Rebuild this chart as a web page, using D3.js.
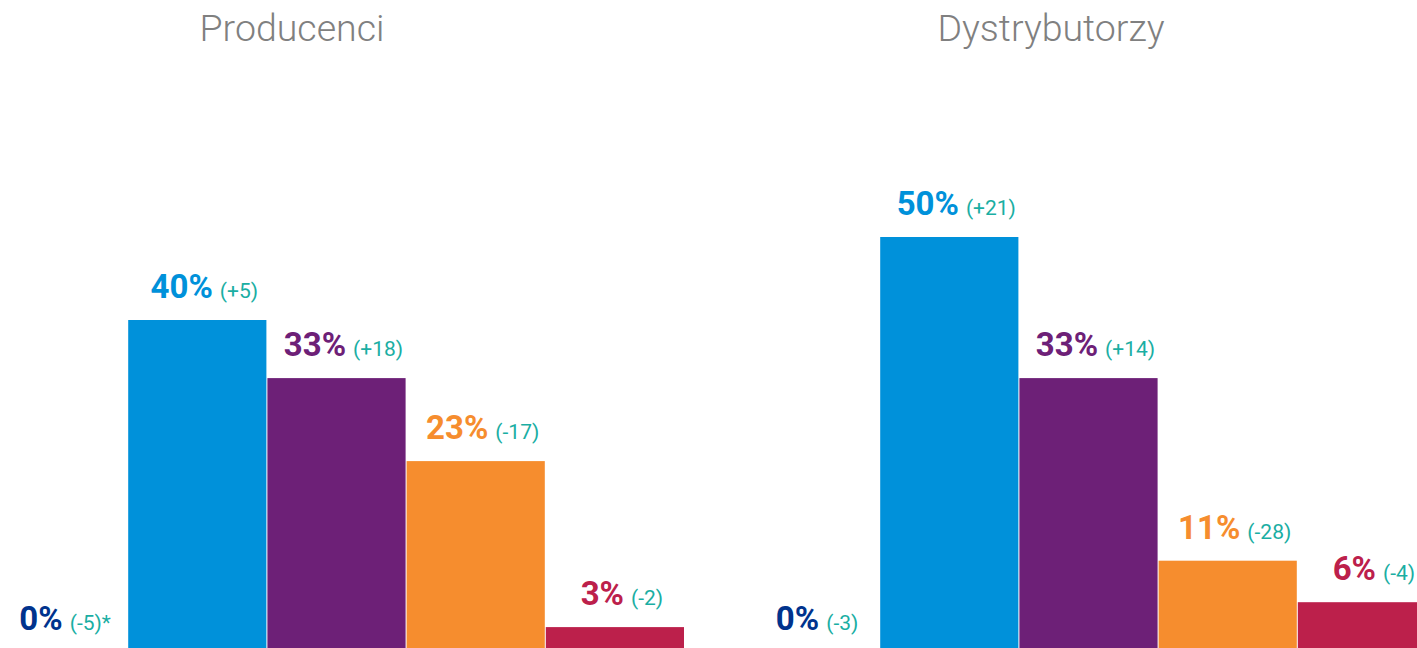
<!DOCTYPE html>
<html>
<head>
<meta charset="utf-8">
<script src="https://cdn.jsdelivr.net/npm/d3@7"></script>
<style>
  body { margin: 0; background: #fff; }
  svg { display: block; font-family: Roboto, "Liberation Sans", sans-serif; }
</style>
</head>
<body>
<div class="graph"></div>
<script>
// data
var panels = ["Producenci", "Dystrybutorzy"];
var categories = ["a", "b", "c", "d", "e"];
var producenciValues = [0, 40, 33, 23, 3];
var producenciDeltas = ["(-5)*", "(+5)", "(+18)", "(-17)", "(-2)"];
var dystrybutorzyValues = [0, 50, 33, 11, 6];
var dystrybutorzyDeltas = ["(-3)", "(+21)", "(+14)", "(-28)", "(-4)"];
var colors = ["#00338D", "#0091DA", "#6D2077", "#F68D2E", "#BC204B"];

var width = 1417, height = 648;

var svg = d3.select(".graph")
  .append("svg")
  .attr("width", width)
  .attr("height", height);

// shared y scale, baseline sits a little below the picture
var yScale = d3.scaleLinear()
  .domain([0, 50])
  .range([652, 237]);

function drawPanel(title, values, deltas, x0, titleX) {
  var xScale = d3.scaleBand()
    .domain(categories)
    .range([x0, x0 + 695])
    .paddingInner(1 / 139)
    .paddingOuter(0);

  var g = svg.append("g");

  g.append("text")
    .attr("x", titleX)
    .attr("y", 41)
    .attr("text-anchor", "middle")
    .attr("font-size", 37.5)
    .attr("font-weight", 300)
    .attr("fill", "#808080")
    .text(title);

  var data = categories.map(function(c, i) {
    return {cat: c, value: values[i], delta: deltas[i], color: colors[i]};
  });

  g.selectAll(".bar")
    .data(data)
    .enter()
    .append("rect")
    .attr("class", "bar")
    .attr("x", function(d) { return xScale(d.cat); })
    .attr("y", function(d) { return yScale(d.value); })
    .attr("width", xScale.bandwidth())
    .attr("height", function(d) { return yScale(0) - yScale(d.value); })
    .attr("fill", function(d) { return d.color; });

  // value labels, nudged a bit right of the bar centre
  var labels = g.selectAll(".label")
    .data(data)
    .enter()
    .append("text")
    .attr("class", "label")
    .attr("x", function(d) { return xScale(d.cat) + xScale.bandwidth() / 2 + 7; })
    .attr("y", function(d) { return yScale(d.value) - 22; })
    .attr("text-anchor", "middle");

  labels.append("tspan")
    .attr("font-size", 33)
    .attr("font-weight", 700)
    .attr("fill", function(d) { return d.color; })
    .text(function(d) { return d.value + "%"; });

  labels.append("tspan")
    .attr("dx", 7)
    .attr("font-size", 21)
    .attr("font-weight", 400)
    .attr("fill", "#1AAEA3")
    .text(function(d) { return d.delta; });
}

drawPanel(panels[0], producenciValues, producenciDeltas, -11, 292);
drawPanel(panels[1], dystrybutorzyValues, dystrybutorzyDeltas, 741, 1051);
</script>
</body>
</html>
